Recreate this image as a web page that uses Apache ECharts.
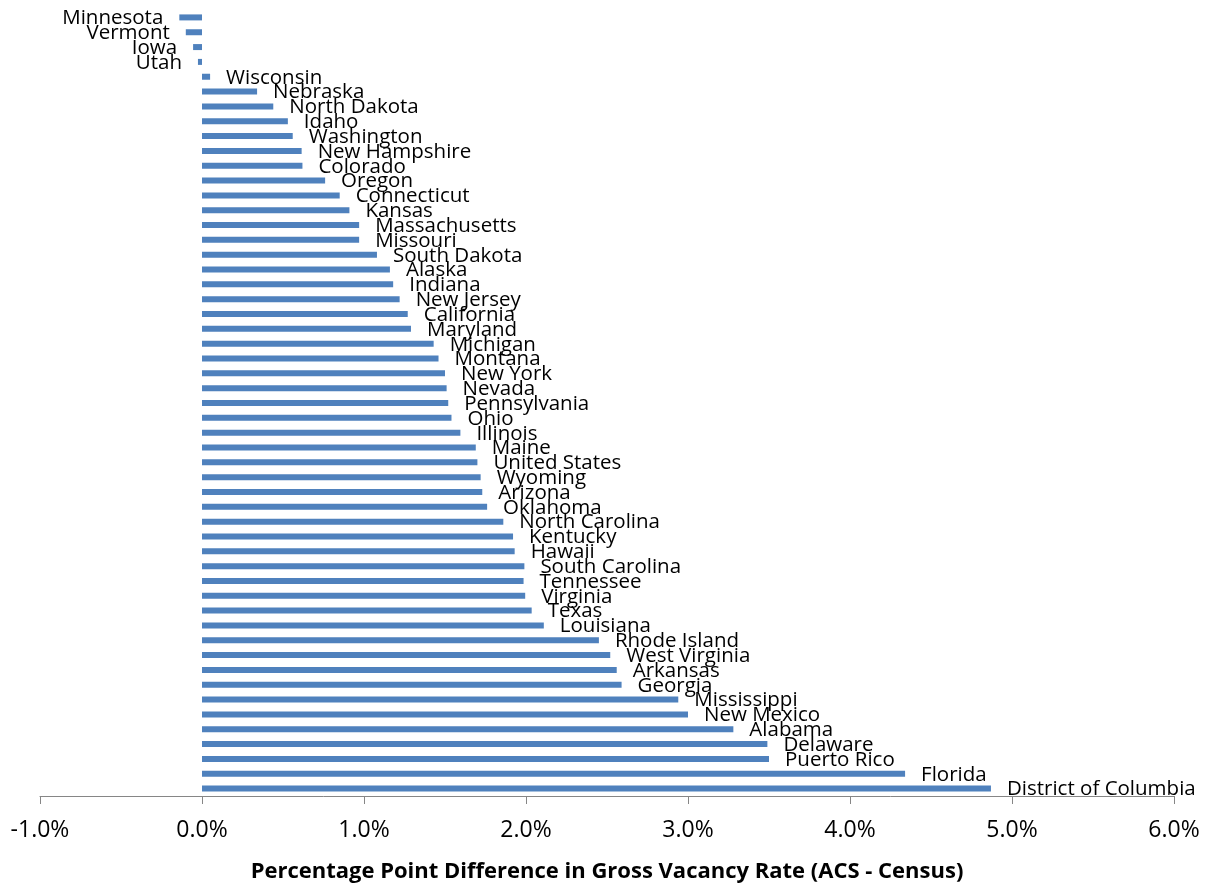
<!DOCTYPE html>
<html>
<head>
<meta charset="utf-8">
<script src="https://cdn.jsdelivr.net/npm/echarts@6/dist/echarts.min.js"></script>
<style>
  html, body { margin: 0; padding: 0; background: #ffffff; }
  #chart { width: 1207px; height: 888px; }
</style>
</head>
<body>
<div id="chart"></div>
<script>
// States ordered from smallest to largest difference (top to bottom)
const states = [
  'Minnesota', 'Vermont', 'Iowa', 'Utah', 'Wisconsin', 'Nebraska', 'North Dakota',
  'Idaho', 'Washington', 'New Hampshire', 'Colorado', 'Oregon', 'Connecticut',
  'Kansas', 'Massachusetts', 'Missouri', 'South Dakota', 'Alaska', 'Indiana',
  'New Jersey', 'California', 'Maryland', 'Michigan', 'Montana', 'New York',
  'Nevada', 'Pennsylvania', 'Ohio', 'Illinois', 'Maine', 'United States',
  'Wyoming', 'Arizona', 'Oklahoma', 'North Carolina', 'Kentucky', 'Hawaii',
  'South Carolina', 'Tennessee', 'Virginia', 'Texas', 'Louisiana', 'Rhode Island',
  'West Virginia', 'Arkansas', 'Georgia', 'Mississippi', 'New Mexico', 'Alabama',
  'Delaware', 'Puerto Rico', 'Florida', 'District of Columbia'
];

// Percentage point difference in gross vacancy rate (ACS - Census)
const differences = [
  -0.14, -0.10, -0.055, -0.025, 0.05, 0.34, 0.44,
  0.53, 0.56, 0.615, 0.62, 0.76, 0.85,
  0.91, 0.97, 0.97, 1.08, 1.16, 1.18,
  1.22, 1.27, 1.29, 1.43, 1.46, 1.50,
  1.51, 1.52, 1.54, 1.595, 1.69, 1.70,
  1.72, 1.73, 1.76, 1.86, 1.92, 1.93,
  1.99, 1.985, 1.995, 2.035, 2.11, 2.45,
  2.52, 2.56, 2.59, 2.94, 3.00, 3.28,
  3.49, 3.50, 4.34, 4.87
];

const axisTitle = 'Percentage Point Difference in Gross Vacancy Rate (ACS - Census)';
const axisMin = -1;
const axisMax = 6;
const axisStep = 1;

const FONT = '"Open Sans", "Liberation Sans", sans-serif';

const chart = echarts.init(document.getElementById('chart'), null, { renderer: 'canvas' });

chart.setOption({
  animation: false,
  backgroundColor: '#ffffff',
  grid: { left: 40, right: 33, top: 10, bottom: 92, containLabel: false },
  xAxis: {
    type: 'value',
    min: axisMin,
    max: axisMax,
    interval: axisStep,
    position: 'bottom',
    axisLine: { show: true, onZero: false, lineStyle: { color: '#868686', width: 1 } },
    axisTick: { show: true, inside: false, length: 8, lineStyle: { color: '#868686' } },
    splitLine: { show: false },
    axisLabel: {
      margin: 23,
      color: '#000000',
      fontFamily: FONT,
      fontSize: 23,
      formatter: v => v.toFixed(1) + '%'
    },
    name: axisTitle,
    nameLocation: 'middle',
    nameGap: 65,
    nameTextStyle: {
      color: '#000000',
      fontFamily: FONT,
      fontSize: 22,
      fontWeight: 'bold'
    }
  },
  yAxis: {
    type: 'category',
    data: states,
    inverse: true,
    axisLine: { show: false },
    axisTick: { show: false },
    axisLabel: { show: false },
    splitLine: { show: false }
  },
  series: [{
    type: 'bar',
    barWidth: 6,
    itemStyle: { color: '#4F81BD' },
    label: {
      show: true,
      formatter: '{b}',
      distance: 16,
      offset: [0, 1],
      color: '#000000',
      fontFamily: FONT,
      fontSize: 20.5
    },
    data: differences.map(v => ({
      value: v,
      label: { position: v < 0 ? 'left' : 'right' }
    }))
  }]
});
</script>
</body>
</html>
